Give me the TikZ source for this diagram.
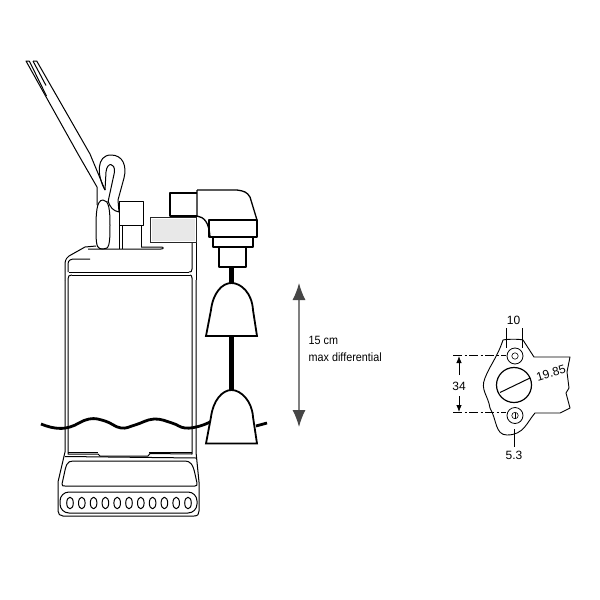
\documentclass[tikz,border=0pt]{standalone}
\usepackage{fontspec}
\setmainfont{Liberation Sans}
\usepackage{xcolor}
\usetikzlibrary{arrows.meta, calc}
\definecolor{floatgrey}{RGB}{232, 232, 232}
\definecolor{arrowgrey}{RGB}{70, 70, 70}
\tikzset{
    outline/.style={draw=black, line width=1pt, line join=round},
    heavy/.style={draw=black, line width=1.6pt, line join=round},
    dimline/.style={draw=black, line width=0.6pt},
    dimtext/.style={font=\fontsize{12}{14}\selectfont, inner sep=0pt},
    bell/.style={draw=black, line width=1.8pt, fill=white, line join=miter},
    note/.style={font=\fontsize{12}{14}\selectfont, inner sep=0pt, anchor=west, xscale=0.9}
}

\begin{document}
\begin{tikzpicture}[x=1pt, y=-1pt]
    \useasboundingbox (0,0) rectangle (600,600);

    % Cable
    \draw[outline] (29.3,61) -- (26,61) -- (78,154) -- (97,187) -- (97,205);
    \draw[outline] (33,61) -- (36.7,61) -- (90,154) -- (105,190);
    \draw[outline] (29.3,61) -- (46.5,96);
    \draw[outline] (33,61) -- (46,85.5);

    % Handle loop
    \draw[outline] (105,190) .. controls (97,176) and (96,155) .. (111,155)
        .. controls (123,155) and (127,166) .. (124,178) -- (118,200) -- (119,212)
        .. controls (113,211) and (110,207) .. (108,201);
    \draw[outline] (105,190) -- (106,172) .. controls (107,162) and (115,162) .. (114.5,172) -- (108,202);
    \draw[outline] (103,200) .. controls (96,200) and (96,215) .. (96,232) .. controls (96,248) and (98,249) .. (103,249)
        .. controls (109,249) and (110,246) .. (110,225) .. controls (110,210) and (109,200) .. (103,200);
    \draw[outline] (119,212) -- (119,249);

    % Outlet pipe
    \draw[outline] (119.5,201) rectangle (143.5,225.5);
    \draw[outline] (122,225.5) -- (122,249);
    \draw[outline] (141,225.5) -- (141,247);

    % Float switch housing
    \draw[draw=black!85, line width=0.9pt, fill=white] (150,217) rectangle (196,242.5);
    \fill[floatgrey] (151.5,218.5) rectangle (194.5,241);
    \draw[heavy] (197,216) -- (170,216) -- (170,193) -- (197,193);
    \draw[outline, line width=1.3pt] (197,190) -- (237,190) .. controls (244,191) and (247,192) .. (250,197) -- (257,220);
    \draw[outline, line width=1.3pt] (197,190) -- (197,216) .. controls (204,217) and (209,222) .. (210,237);
    \draw[heavy] (209,220) rectangle (257,237);
    \draw[outline, line width=1.3pt] (213,237) rectangle (253,247);
    \draw[outline, line width=1.3pt] (219,247) rectangle (246,267);

    % Pump body
    \draw[outline] (65,280) -- (65,263) .. controls (66,258) and (67,258) .. (69,256) -- (85,247) -- (96,246);
    \draw[outline] (88,249) -- (161,249) .. controls (164,249) and (164,247) .. (161,247) -- (141,247);
    \draw[outline] (192,243) -- (192,269) .. controls (192,272) and (191,272) .. (189,272);
    \draw[outline] (196,243) -- (196,280);
    \draw[outline] (68,272) -- (68,264) .. controls (68,260) and (71,259) .. (75,259) -- (90,259);
    \draw[outline] (69,272) -- (189,272);
    \draw[outline] (72,275) -- (190,275);
    \draw[outline] (65,280) -- (65,452) -- (58,482) -- (58,511) .. controls (58,514) and (60,516) .. (63,516)
        -- (194,516) .. controls (198,516) and (199,514) .. (199,511) -- (199,482) -- (196,452) -- (196,280);
    \draw[outline] (68,279) .. controls (68,276) and (69,275) .. (72,275);
    \draw[outline] (68,279) -- (68,454) -- (98,454) -- (100,456) -- (148,456) -- (150,453.5) -- (192,454) -- (192,278) .. controls (192,276) and (191,275) .. (190,275);
    \draw[outline] (68,452.5) -- (98,452.5);
    \draw[outline] (149,452.5) -- (192,452.5);
    \draw[outline] (65,456.5) -- (196,458);
    \draw[outline] (73,461) .. controls (67,461) and (66,465) .. (64,475) -- (62,484) .. controls (62,486) and (63,486) .. (65,486) -- (195,486)
        .. controls (197,486) and (197,485) .. (197,483) -- (195,474)
        .. controls (193,464) and (190,461) .. (185,461) -- cycle;

    % Foot strip with the slots
    \draw[outline, rounded corners=9pt] (60,492) rectangle (197,513);
    \foreach \slotx in {0,...,10} {
        \draw[outline] ({70+\slotx*11.8},503) ellipse (3.3pt and 5.8pt);
    }

    % Water level
    \draw[black, line width=2.8pt] plot[smooth, tension=0.7] coordinates {(41,424) (55,428) (70,427) (89,419) (105,421) (121,428) (135,425) (154,419) (172,423) (185,428) (200,426) (212,421)};
    \draw[black, line width=2.8pt] (256,426) -- (267,423);

    % Float cord and floats
    \draw[black, line width=4.4pt] (231.5,267) -- (231.5,284);
    \draw[black, line width=4.4pt] (231.5,336) -- (231.5,391);
    \draw[bell] (206,336) -- (211,310) .. controls (213,293) and (222,283) .. (231.5,283)
        .. controls (241,283) and (252,293) .. (253,310) -- (257,336) -- cycle;
    \draw[bell] (206,443.5) -- (211,417) .. controls (213,401) and (222,390) .. (231.5,390)
        .. controls (241,390) and (252,401) .. (253,417) -- (257,443.5) -- cycle;

    % Differential arrow
    \coordinate (difftop) at (299,283);
    \coordinate (diffbot) at (299,427);
    \draw[draw=gray, line width=1.2pt, {Latex[length=17pt, width=13pt, color=arrowgrey]}-{Latex[length=17pt, width=13pt, color=arrowgrey]}] (difftop) -- (diffbot);
    \node[note] (difftext) at (308.5,340) {15 cm};
    \node[note] (difflabel) at (308.5,357) {max differential};

    % Flange
    \draw[outline, line width=0.9pt] (534,357) -- (570,357) -- (567,372) -- (569,388) -- (566,393) -- (570,408) -- (560,413) -- (535,413)
        .. controls (527,422) and (524,435) .. (507,435) .. controls (495,435) and (497,420) .. (490,408)
        .. controls (488,395) and (480,390) .. (485,378) .. controls (490,365) and (497,358) .. (503,340)
        .. controls (507,339) and (520,339) .. (523,340) -- cycle;
    \draw[outline, line width=0.8pt] (515,356) circle (8pt);
    \draw[dimline] (515,356) circle (3.2pt);
    \draw[outline, line width=0.8pt] (515,415.5) circle (8pt);
    \draw[dimline] (515,415.5) circle (3.2pt);
    \draw[dimline] (515,412.5) -- (515,418.5);
    \draw[outline, line width=1.2pt] (514,385) circle (17.5pt);
    \coordinate (slotl) at (500,392.5);
    \coordinate (slotr) at (530,378);
    \draw[outline] (slotl) -- (slotr);

    % Dimensions
    \coordinate (dimtopl) at (453,355.5);
    \coordinate (dimtopr) at (506,355.5);
    \coordinate (dimbotl) at (453,412.5);
    \coordinate (dimbotr) at (506,412.5);
    \draw[dimline, dash pattern=on 9pt off 2.5pt on 2pt off 2.5pt] (dimtopl) -- (dimtopr);
    \draw[dimline, dash pattern=on 9pt off 2.5pt on 2pt off 2.5pt] (dimbotl) -- (dimbotr);
    \coordinate (arrtop) at (459,356);
    \coordinate (arrtopend) at (459,375);
    \coordinate (arrbot) at (459,412);
    \coordinate (arrbotend) at (459,396);
    \draw[dimline, line width=0.8pt, -{Latex[length=7pt, width=5.5pt]}] (arrtopend) -- (arrtop);
    \draw[dimline, line width=0.8pt, -{Latex[length=7pt, width=5.5pt]}] (arrbotend) -- (arrbot);
    \node[dimtext] (dimA) at (459,386) {34};
    \coordinate (tenl) at (506.5,328);
    \coordinate (tenll) at (506.5,348);
    \coordinate (tenr) at (522.5,328);
    \coordinate (tenrr) at (522.5,348);
    \draw[dimline] (tenl) -- (tenll);
    \draw[dimline] (tenr) -- (tenrr);
    \node[dimtext] (dimB) at (513.5,320) {10};
    \coordinate (holetop) at (514,429);
    \coordinate (holebot) at (514,447);
    \draw[dimline, line width=0.8pt] (holetop) -- (holebot);
    \node[dimtext] (dimC) at (514,455) {5.3};
    \node[dimtext, rotate=17] (dimD) at (551,373) {19.85};
\end{tikzpicture}
\end{document}
